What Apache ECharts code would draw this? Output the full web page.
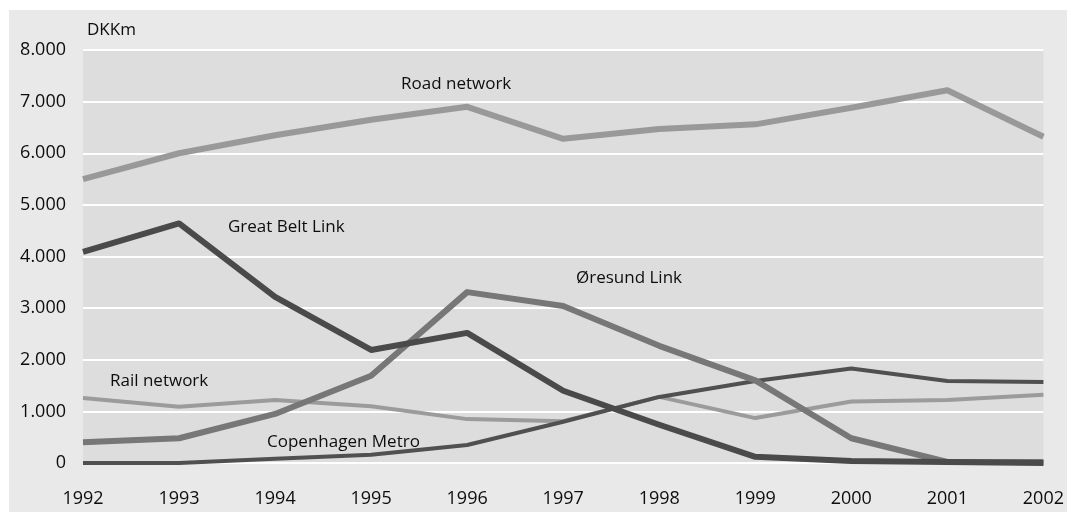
<!DOCTYPE html>
<html><head><meta charset="utf-8">
<script src="https://cdn.jsdelivr.net/npm/echarts@6/dist/echarts.min.js"></script>
<style>html,body{margin:0;padding:0;background:#fff}#c{width:1067px;height:512px}</style>
</head><body><div id="c"></div>
<script>
const years = ['1992','1993','1994','1995','1996','1997','1998','1999','2000','2001','2002'];
const roadNetwork   = [5500, 6000, 6350, 6650, 6900, 6280, 6470, 6560, 6880, 7220, 6320];
const greatBeltLink = [4090, 4640, 3220, 2190, 2520, 1400, 740, 120, 40, 20, 0];
const oresundLink   = [400, 480, 950, 1690, 3310, 3040, 2270, 1600, 480, 20, 20];
const railNetwork   = [1260, 1090, 1220, 1100, 850, 810, 1280, 870, 1190, 1220, 1320];
const copenhagenMetro = [0, 0, 80, 160, 350, 800, 1280, 1590, 1830, 1590, 1570];
const yTicks = {min: 0, max: 8000, step: 1000};

const chart = echarts.init(document.getElementById('c'), null, {renderer: 'canvas'});
const font = '"Open Sans", "Noto Sans", sans-serif';
function mk(name, data, color, width) {
  return {name, type: 'line', data, symbol: 'none', smooth: false,
    lineStyle: {color, width, join: 'round'}, itemStyle: {color}, animation: false};
}
const txt = (x, y, s) => ({type: 'text', left: x, top: y, z: 100,
  style: {text: s, fill: '#0d0d0d', font: '17px ' + font}});
chart.setOption({
  backgroundColor: '#ffffff',
  animation: false,
  grid: {left: 83, right: 21, top: 50, bottom: 49, show: true, backgroundColor: '#dddddd', borderWidth: 0},
  xAxis: {type: 'category', data: years, boundaryGap: false,
    axisLine: {show: false}, axisTick: {show: false}, splitLine: {show: false},
    axisLabel: {color: '#0d0d0d', fontSize: 18, fontFamily: font, margin: 27}},
  yAxis: {type: 'value', min: yTicks.min, max: yTicks.max, interval: yTicks.step,
    axisLine: {show: false}, axisTick: {show: false},
    splitLine: {show: true, lineStyle: {color: '#ffffff', width: 2}},
    axisLabel: {color: '#0d0d0d', fontSize: 18, fontFamily: font, margin: 17,
      formatter: v => v === 0 ? '0' : (v / 1000).toFixed(3)}},
  graphic: [
    {type: 'rect', left: 9, top: 10, z: -10, shape: {width: 1058, height: 502}, style: {fill: '#e9e9e9'}},
    txt(87, 22, 'DKKm'),
    txt(401, 76, 'Road network'),
    txt(228, 219, 'Great Belt Link'),
    txt(576, 270, 'Øresund Link'),
    txt(110, 373, 'Rail network'),
    txt(267, 434, 'Copenhagen Metro')
  ],
  series: [
    mk('Road network', roadNetwork, '#999999', 6),
    mk('Rail network', railNetwork, '#9b9b9b', 4),
    mk('Copenhagen Metro', copenhagenMetro, '#505050', 4),
    mk('Øresund Link', oresundLink, '#777777', 6),
    mk('Great Belt Link', greatBeltLink, '#4a4a4a', 6)
  ]
});
</script></body></html>
